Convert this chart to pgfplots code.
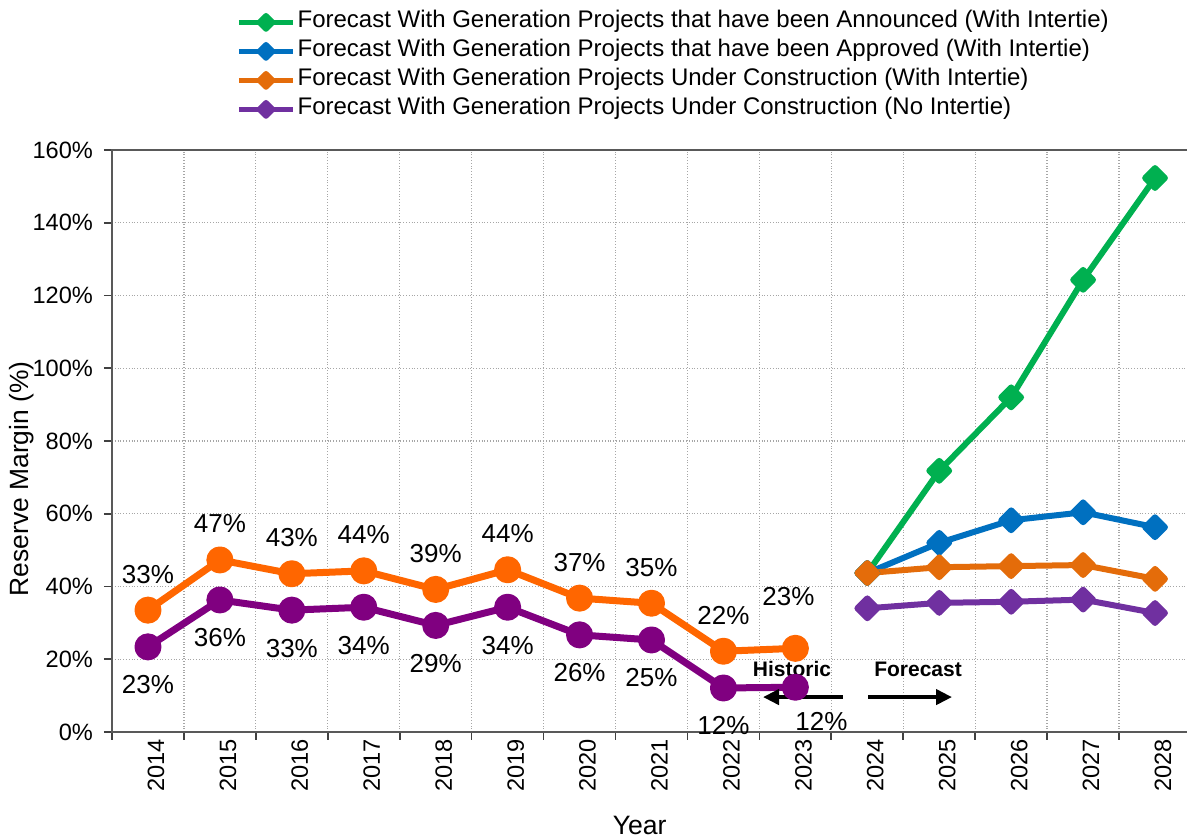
\documentclass[border=0pt]{standalone}
\usepackage{fontspec}
\setmainfont{Liberation Sans}
\usepackage{pgfplots}
\pgfplotsset{compat=1.18}
\usetikzlibrary{arrows.meta}
\definecolor{cHistOr}{HTML}{FF6600}
\definecolor{cHistPu}{HTML}{800080}
\definecolor{cFcGr}{HTML}{00B050}
\definecolor{cFcBl}{HTML}{0070C0}
\definecolor{cFcOr}{HTML}{E46C0A}
\definecolor{cFcPu}{HTML}{7030A0}
\begin{document}
\begin{tikzpicture}
\useasboundingbox (-56pt,-53pt) rectangle (537.5pt,366pt);
\begin{axis}[
  at={(0,0)}, anchor=south west,
  width=539.5pt, height=291pt, scale only axis,
  xmin=2013.5, xmax=2028.5, ymin=0, ymax=160,
  xtick={2013.5,2014.5,...,2028.5},
  xticklabels={},
  extra x ticks={2014,2015,2016,2017,2018,2019,2020,2021,2022,2023,2024,2025,2026,2027,2028},
  extra x tick labels={2014,2015,2016,2017,2018,2019,2020,2021,2022,2023,2024,2025,2026,2027,2028},
  extra x tick style={grid=none, major tick length=0pt,
    tick label style={rotate=90, anchor=east, yshift=-4pt}},
  ytick={0,20,...,160},
  yticklabels={0\%,20\%,40\%,60\%,80\%,100\%,120\%,140\%,160\%},
  yticklabel style={xshift=-2pt},
  xmajorgrids=true, ymajorgrids=true,
  grid style={densely dotted, black!35, line width=0.6pt},
  tick align=outside, tick pos=left,
  major tick length=4pt,
  tick style={black!75, line width=0.8pt},
  axis line style={black!65, line width=1pt},
  tick label style={font=\fontsize{11.8}{13}\selectfont},
  xlabel={Year}, ylabel={Reserve Margin (\%)},
  every axis x label/.style={at={(axis description cs:0.489,0)}, yshift=-46.5pt, anchor=center, font=\fontsize{13.3}{15}\selectfont},
  every axis y label/.style={at={(axis description cs:0,0.435)}, xshift=-45pt, anchor=center, rotate=90, font=\fontsize{13.2}{15}\selectfont},
  legend style={at={(axis description cs:0,1)}, anchor=north west, xshift=62pt, yshift=71pt,
    draw=none, fill=none, inner sep=0pt, row sep=0.5pt,
    font=\fontsize{12}{14}\selectfont,
    nodes={inner sep=1pt, text height=8.8pt, text depth=3.2pt}},
  legend cell align=left,
  legend image code/.code={\draw[mark repeat=2, mark phase=2, #1, line width=2.6pt, mark size=2.4pt] plot coordinates {(0pt,0pt) (13.5pt,0pt) (27pt,0pt)};},
  clip=false,
]
% Forecast series
\addplot[color=cFcGr, line width=3pt, line join=round, mark=square*, mark size=3.5pt, mark options={rotate=45, fill=cFcGr, solid}]
  coordinates {(2024,43.7) (2025,71.8) (2026,92.0) (2027,124.3) (2028,152.3)};
\addlegendentry{Forecast With Generation Projects that have been Announced (With Intertie)}
\addplot[color=cFcBl, line width=3pt, line join=round, mark=square*, mark size=3.5pt, mark options={rotate=45, fill=cFcBl, solid}]
  coordinates {(2024,43.7) (2025,52.0) (2026,58.2) (2027,60.4) (2028,56.3)};
\addlegendentry{Forecast With Generation Projects that have been Approved (With Intertie)}
\addplot[color=cFcOr, line width=3pt, line join=round, mark=square*, mark size=3.5pt, mark options={rotate=45, fill=cFcOr, solid}]
  coordinates {(2024,43.7) (2025,45.3) (2026,45.6) (2027,45.9) (2028,42.1)};
\addlegendentry{Forecast With Generation Projects Under Construction (With Intertie)}
\addplot[color=cFcPu, line width=3pt, line join=round, mark=square*, mark size=3.5pt, mark options={rotate=45, fill=cFcPu, solid}]
  coordinates {(2024,34.0) (2025,35.5) (2026,35.8) (2027,36.4) (2028,32.7)};
\addlegendentry{Forecast With Generation Projects Under Construction (No Intertie)}
% Historic series
\addplot[forget plot, color=cHistOr, line width=3.5pt, line join=round, mark=*, mark size=5pt, mark options={fill=cHistOr, solid},
  point meta=explicit symbolic, nodes near coords,
  nodes near coords style={black, anchor=center, yshift=18pt, font=\fontsize{13}{15}\selectfont}]
  coordinates {(2014,33.5)[33\%] (2015,47.3)[47\%] (2016,43.5)[43\%] (2017,44.3)[44\%] (2018,39.2)[39\%]
    (2019,44.6)[44\%] (2020,36.8)[37\%] (2021,35.4)[35\%] (2022,22.2)[22\%] (2023,23.0)[{}]};
\addplot[forget plot, color=cHistPu, line width=3.5pt, line join=round, mark=*, mark size=5pt, mark options={fill=cHistPu, solid},
  point meta=explicit symbolic, nodes near coords,
  nodes near coords style={black, anchor=center, yshift=-19pt, font=\fontsize{13}{15}\selectfont}]
  coordinates {(2014,23.4)[23\%] (2015,36.3)[36\%] (2016,33.5)[33\%] (2017,34.3)[34\%] (2018,29.3)[29\%]
    (2019,34.3)[34\%] (2020,26.7)[26\%] (2021,25.3)[25\%] (2022,12.1)[12\%] (2023,12.3)[{}]};
% 2023 labels
\addplot[forget plot, draw=none, mark=none, point meta=explicit symbolic, nodes near coords,
  nodes near coords style={black, anchor=center, xshift=-3.5pt, yshift=26pt, font=\fontsize{13}{15}\selectfont}]
  coordinates {(2023,23.0)[23\%]};
\addplot[forget plot, draw=none, mark=none, point meta=explicit symbolic, nodes near coords,
  nodes near coords style={black, anchor=center, xshift=13pt, yshift=-17pt, font=\fontsize{13}{15}\selectfont}]
  coordinates {(2023,12.3)[12\%]};
% annotations
\node[font=\bfseries\fontsize{10.5}{12}\selectfont] at (axis cs:2022.953,17.3) {Historic};
\node[font=\bfseries\fontsize{10.5}{12}\selectfont] at (axis cs:2024.705,17.3) {Forecast};
\draw[line width=2pt, -{Triangle[length=8pt,width=7.5pt]}] (axis cs:2023.662,9.6) -- (axis cs:2022.55,9.6);
\draw[line width=2pt, -{Triangle[length=8pt,width=7.5pt]}] (axis cs:2024.01,9.6) -- (axis cs:2025.178,9.6);
\end{axis}
\end{tikzpicture}
\end{document}
